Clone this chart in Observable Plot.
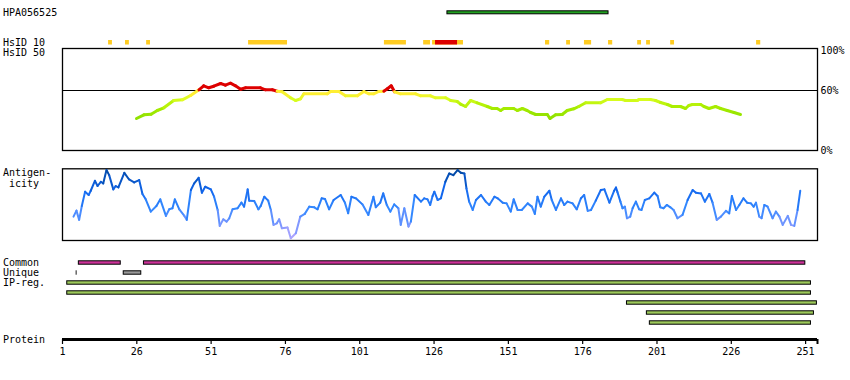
<!DOCTYPE html>
<html><head><meta charset="utf-8">
<script src="https://cdn.jsdelivr.net/npm/d3@7"></script>
<script src="https://cdn.jsdelivr.net/npm/@observablehq/plot@0.6"></script>
<style>
body{margin:0;background:#fff}
#chart{position:relative;width:850px;height:380px;font-family:"DejaVu Sans Mono",monospace;font-size:10px}
#chart svg{position:absolute;left:0}
.lbl{position:absolute;left:3px;line-height:12px;white-space:pre;color:#000;font-family:"DejaVu Sans Mono",monospace;font-size:10px}
</style></head><body><div id="chart"></div>
<script>
const proteinLength = 255;
const antigenId = "HPA056525";
const epitope = [[130.5, 184.7]];
const hsid10Orange = [[16.5,17.8],[22.2,23.5],[29.3,30.6],[63.6,76.7],[109.3,116.7],[122.5,124.8],[125.5,135.9],[163.5,164.9],[170.6,171.9],[176.6,179.0],[184.7,186.1],[194.5,195.8],[197.5,198.8],[205.6,206.9],[234.5,235.9]];
const hsid10Red = [[126.5,133.9]];
const hsid50 = [[25.9,32],[28.4,35.7],[30.8,36.3],[32.9,40],[35.1,42.7],[38.4,50],[41.3,50.7],[44.1,55],[46.9,60.7],[48.5,64.7],[50.2,62.7],[51.9,64.3],[54.2,67],[55.8,65.3],[57.5,67.3],[59.2,64.7],[60.9,61.3],[62.6,62.7],[67.6,62.7],[69.3,60.7],[71.6,60.7],[73.2,59.3],[74.9,58.7],[77.7,52.7],[79.4,50],[81.1,51.7],[82.2,56.7],[90.1,56.7],[91.2,59],[94.0,59],[96.2,54.7],[100.2,54.7],[102.4,59],[104.1,56.7],[105.7,56.7],[107.4,59],[109.1,59.3],[110.3,61.7],[111.6,64.7],[112.7,58.7],[114.7,56.7],[119.8,56.7],[121.5,54.7],[124.8,54.7],[126.5,52.7],[129.9,52.7],[131.6,50],[133.8,49],[134.9,46.3],[136.6,44],[138.3,50],[140.5,47.7],[143.9,44],[145.6,42],[147.2,42],[148.4,40],[149.5,42],[152.8,42],[154.0,40],[155.7,42],[157.3,40],[158.5,38],[160.2,36],[164.1,36],[165.0,32],[166.9,35.7],[169.1,36],[170.8,40],[173.0,41.7],[174.7,44],[177.0,47.7],[182.0,47.7],[184.3,51],[189.3,51],[190.4,50],[194.4,50],[194.9,51],[198.8,51],[200.5,50],[202.2,48],[204.5,46],[206.1,44],[208.9,44],[210.6,42],[211.7,45],[212.9,46],[215.7,46],[216.8,44],[218.5,42],[220.7,44],[222.4,42],[224.6,40],[226.9,38],[229.1,36]];
const antigenicity = [[4.7,33.3],[5.7,41.7],[6.6,28.8],[7.5,48.2],[8.6,68.1],[9.8,63.5],[10.5,69.4],[11.9,83.3],[12.8,76.0],[13.9,81.9],[14.7,79.6],[15.8,98.2],[16.7,91.2],[18.1,71.3],[18.9,76.0],[19.8,74.0],[21.8,94.4],[23.4,85.1],[25.1,81.0],[26.8,84.3],[27.9,64.9],[29.0,57.4],[30.7,40.3],[32.6,48.2],[33.9,57.4],[35.8,34.3],[36.9,43.5],[38.0,44.9],[38.8,57.4],[40.3,43.5],[42.0,34.3],[42.8,28.8],[44.2,70.4],[45.3,79.6],[46.8,87.5],[47.9,66.7],[49.0,75.0],[50.9,71.3],[52.0,61.1],[53.2,42.6],[53.9,20.4],[55.1,29.6],[56.2,26.4],[57.1,31.0],[58.2,43.5],[59.9,44.9],[61.2,52.8],[62.1,47.2],[63.3,71.3],[63.8,55.6],[65.5,55.1],[66.9,43.5],[67.7,48.2],[68.9,61.1],[70.2,55.6],[71.1,42.6],[72.0,21.8],[73.1,24.0],[73.9,29.6],[74.8,17.1],[76.7,18.1],[77.8,3.2],[79.5,10.2],[81.0,33.3],[82.5,37.1],[84.0,47.2],[85.7,46.3],[86.8,43.5],[88.2,58.8],[89.3,57.9],[90.7,43.5],[92.2,56.5],[94.6,63.5],[96.0,52.8],[97.1,37.9],[98.2,61.1],[99.7,58.8],[101.9,50.4],[103.9,35.7],[105.6,61.1],[106.4,46.3],[107.9,52.8],[108.9,65.7],[110.1,49.6],[111.3,40.3],[112.6,50.4],[114.0,44.9],[114.8,21.8],[116.0,44.9],[117.4,19.4],[118.2,26.4],[119.5,63.5],[121.6,54.2],[122.7,58.8],[123.8,57.4],[124.7,49.6],[125.5,62.0],[126.1,68.1],[127.2,56.5],[128.3,58.8],[129.8,81.9],[131.1,93.5],[132.5,91.2],[133.9,98.2],[135.0,94.4],[136.2,93.5],[136.9,72.6],[137.8,54.2],[139.0,42.6],[140.1,56.5],[141.8,63.5],[143.4,54.2],[144.6,49.6],[146.3,61.1],[147.4,58.8],[149.1,52.8],[150.4,51.8],[151.8,40.3],[152.8,57.4],[154.1,42.6],[155.5,42.6],[157.5,51.8],[158.9,47.2],[159.9,37.1],[160.8,61.1],[161.9,47.2],[163.1,61.1],[164.8,69.4],[165.6,56.5],[167.0,42.6],[168.7,58.8],[169.8,49.6],[170.9,54.2],[172.6,51.8],[174.0,43.5],[175.4,58.8],[176.5,63.5],[177.7,41.3],[178.8,42.6],[180.4,55.6],[182.1,70.4],[183.3,71.3],[185.0,52.8],[186.6,69.4],[187.2,74.0],[187.7,67.4],[188.7,54.2],[189.4,44.9],[190.2,47.2],[190.9,31.0],[192.0,33.3],[192.8,44.9],[193.9,54.2],[195.0,43.5],[195.8,42.6],[196.9,56.5],[198.4,58.8],[200.1,66.7],[201.2,62.1],[202.1,46.3],[203.2,44.9],[204.3,49.6],[205.5,46.3],[206.6,42.6],[207.9,31.0],[209.6,35.7],[211.3,56.5],[213.0,70.4],[214.1,66.7],[215.8,65.7],[217.1,54.2],[218.6,64.9],[219.7,52.8],[221.1,28.8],[222.5,33.3],[224.2,41.3],[225.3,37.9],[226.2,62.1],[227.6,42.6],[228.7,49.6],[230.1,58.8],[231.3,52.8],[232.6,51.8],[233.5,47.2],[234.3,52.8],[235.4,33.3],[236.2,31.0],[237.1,49.6],[238.2,47.2],[239.9,31.0],[241.0,40.3],[242.2,33.3],[243.3,21.8],[245.0,34.3],[246.1,21.8],[247.2,20.4],[248.3,42.6],[249.2,69.4]];
const commonRegions = [[6.5,20.6],[28.4,250.9]];
const uniqueRegions = [[21.6,27.5]];
const uniqueMarks = [[5.6,5.9]];
const ipRegions = [[2.6,252.8],[2.6,252.8],[190.9,254.8],[197.6,253.8],[198.6,252.8]];
const proteinTicks = [1,26,51,76,101,126,151,176,201,226,251];
const hsidTicks = [0,60,100];

const chart = document.getElementById("chart");
const W = 850, ML = 62, MR = 33;
const xs = () => ({domain: [1, proteinLength], axis: null});
const style = {fontFamily: '"DejaVu Sans Mono", monospace', fontSize: "10px", background: "transparent", overflow: "visible"};
function place(svg, top) { svg.style.position = "absolute"; svg.style.top = top + "px"; svg.style.left = "0px"; chart.appendChild(svg); }
function segs(pts) {
  const out = [];
  for (let i = 0; i < pts.length - 1; i++) out.push({x1: pts[i][0], y1: pts[i][1], x2: pts[i+1][0], y2: pts[i+1][1], v: (pts[i][1] + pts[i+1][1]) / 2});
  return out;
}

// epitope bar
place(Plot.plot({width: W, height: 30, marginLeft: ML, marginRight: MR, marginTop: 10.8, marginBottom: 16.2,
  x: xs(), y: {domain: [0, 1], axis: null}, style,
  marks: [Plot.rect(epitope, {x1: d => d[0], x2: d => d[1], y1: 0, y2: 1, fill: "#21A021", stroke: "black", strokeWidth: 1})]}), 0);

// HsID 10
place(Plot.plot({width: W, height: 16, marginLeft: ML, marginRight: MR, marginTop: 10, marginBottom: 1.5,
  x: xs(), y: {domain: [0, 1], axis: null}, style,
  marks: [
    Plot.rect(hsid10Orange, {x1: d => d[0], x2: d => d[1], y1: 0, y2: 1, fill: "#FFCC22"}),
    Plot.rect(hsid10Red, {x1: d => d[0], x2: d => d[1], y1: 0, y2: 1, fill: "#DD0000"})
  ]}), 30);

// HsID 50 panel
place(Plot.plot({width: W, height: 114, marginLeft: ML, marginRight: MR, marginTop: 2, marginBottom: 10,
  x: xs(), y: {domain: [0, 102], axis: null},
  color: {type: "linear", domain: [30, 44, 52, 57, 59.99, 60, 100], range: ["#88DD00", "#AAEE00", "#DDFF22", "#FFEE33", "#FFEE33", "#DD0000", "#DD0000"]},
  style,
  marks: [
    Plot.frame({stroke: "black", strokeWidth: 1.3}),
    Plot.ruleY([60], {stroke: "black", strokeWidth: 1.2}),
    Plot.link(segs(hsid50), {x1: "x1", y1: "y1", x2: "x2", y2: "y2", stroke: "v", strokeWidth: 3, strokeLinecap: "round"}),
    Plot.axisY({anchor: "right", ticks: hsidTicks, tickFormat: d => d + "%", tickSize: 0, tickPadding: 3, fill: "black"})
  ]}), 46);

// Antigenicity panel
place(Plot.plot({width: W, height: 90, marginLeft: ML, marginRight: MR, marginTop: 8.3, marginBottom: 10,
  x: xs(), y: {domain: [0, 100], axis: null},
  color: {type: "linear", domain: [0, 20, 45, 70, 100], range: ["#BBAAFF", "#8899FF", "#3388FF", "#1166EE", "#004499"]},
  style,
  marks: [
    Plot.frame({stroke: "black", strokeWidth: 1.3}),
    Plot.link(segs(antigenicity), {x1: "x1", y1: "y1", x2: "x2", y2: "y2", stroke: "v", strokeWidth: 2, strokeLinecap: "round"})
  ]}), 160);

// Tracks
const bars = [
  ...commonRegions.map(([a, b]) => ({a, b, row: 0})),
  ...uniqueRegions.map(([a, b]) => ({a, b, row: 1})),
  ...ipRegions.map(([a, b], i) => ({a, b, row: 2 + i}))
];
const h = 0.17;
place(Plot.plot({width: W, height: 80, marginLeft: ML, marginRight: MR, marginTop: 7.5, marginBottom: 2.5,
  x: xs(), y: {domain: [-0.5, 6.5], reverse: true, axis: null}, style,
  marks: [
    Plot.rect(bars.filter(d => d.row === 0), {x1: "a", x2: "b", y1: d => d.row - h, y2: d => d.row + h, fill: "#CC3399", stroke: "black", strokeWidth: 1}),
    Plot.rect(bars.filter(d => d.row === 1), {x1: "a", x2: "b", y1: d => d.row - h, y2: d => d.row + h, fill: "#999999", stroke: "black", strokeWidth: 1}),
    Plot.rect(uniqueMarks, {x1: d => d[0], x2: d => d[1], y1: 1 - h - 0.05, y2: 1 + h + 0.05, fill: "black"}),
    Plot.rect(bars.filter(d => d.row >= 2), {x1: "a", x2: "b", y1: d => d.row - h, y2: d => d.row + h, fill: "#9DC95B", stroke: "black", strokeWidth: 1})
  ]}), 250);

// Protein axis
place(Plot.plot({width: W, height: 50, marginLeft: ML, marginRight: MR, marginTop: 0, marginBottom: 41,
  x: xs(), y: {domain: [0, 1], axis: null}, style,
  marks: [
    Plot.ruleY([0], {x1: 1, x2: proteinLength, stroke: "black", strokeWidth: 3}),
    Plot.axisX({ticks: proteinTicks, tickSize: 5, tickPadding: 3, stroke: "black", strokeWidth: 1.2, fill: "black"}),
    Plot.axisX({ticks: [proteinLength], tickSize: 5, tickFormat: () => "", stroke: "black", strokeWidth: 2})
  ]}), 330);

// Labels
const labels = [
  [antigenId, 16], ["HsID 10", 46], ["HsID 50", 56], ["Antigen-", 176], [" icity", 187],
  ["Common", 266], ["Unique", 276], ["IP-reg.", 286], ["Protein", 343.5]
];
for (const [t, base] of labels) {
  const d = document.createElement("div");
  d.className = "lbl";
  d.textContent = t;
  d.style.top = (base - 9.5) + "px";
  chart.appendChild(d);
}
</script></body></html>
